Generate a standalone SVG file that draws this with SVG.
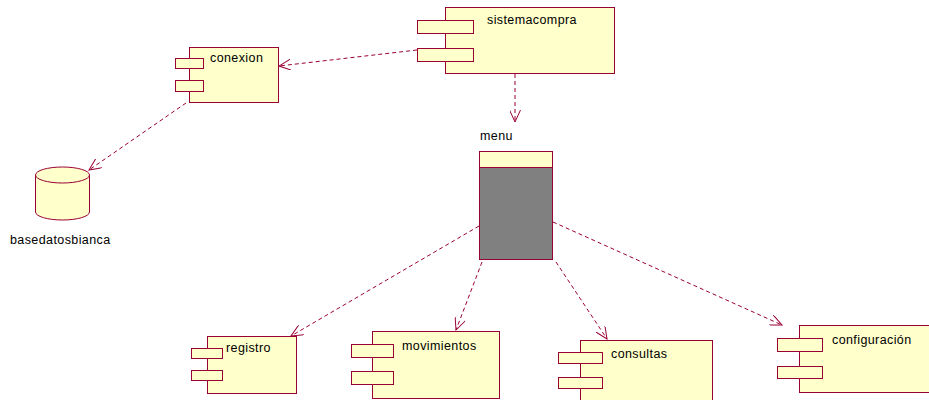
<svg xmlns="http://www.w3.org/2000/svg" width="929" height="400" viewBox="0 0 929 400">
  <style>
    .body { fill: #ffffcc; stroke: #990033; stroke-width: 1; }
    .tab { fill: #ffffcc; stroke: #990033; stroke-width: 1; }
    .lbl { font-family: "Liberation Sans", Arial, sans-serif; font-size: 12.5px; letter-spacing: 0.4px; fill: #000; }
    .dep { fill: none; stroke: #990033; stroke-width: 1; stroke-dasharray: 4 3; }
  </style>
  <defs>
    <marker id="open" viewBox="0 0 13 11" refX="12" refY="5.5" markerWidth="13" markerHeight="11" markerUnits="userSpaceOnUse" orient="auto">
      <path d="M0,0 L12,5.5 L0,11" fill="none" stroke="#990033" stroke-width="1"/>
    </marker>
  </defs>
  <rect width="929" height="400" fill="#ffffff"/>

  <!-- dependencies -->
  <g id="connectors">
    <line class="dep" x1="417" y1="50" x2="279" y2="66" marker-end="url(#open)"/>
    <line class="dep" x1="515" y1="74" x2="515" y2="122" marker-end="url(#open)"/>
    <line class="dep" x1="186" y1="103" x2="89" y2="170" marker-end="url(#open)"/>
    <line class="dep" x1="479" y1="226" x2="291" y2="336" marker-end="url(#open)"/>
    <line class="dep" x1="482" y1="262" x2="456" y2="330" marker-end="url(#open)"/>
    <line class="dep" x1="556" y1="262" x2="607" y2="339" marker-end="url(#open)"/>
    <line class="dep" x1="553" y1="222" x2="782" y2="325" marker-end="url(#open)"/>
  </g>

  <g id="sistemacompra">
    <rect class="body" x="445.5" y="7.5" width="169" height="66"/>
    <rect class="tab" x="417.5" y="20.5" width="56" height="13"/>
    <rect class="tab" x="417.5" y="48.5" width="56" height="13"/>
    <text class="lbl" x="487" y="24" style="letter-spacing:0.4px">sistemacompra</text>
  </g>

  <g id="conexion">
    <rect class="body" x="189.5" y="47.5" width="89" height="55"/>
    <rect class="tab" x="175.5" y="58.5" width="28" height="10"/>
    <rect class="tab" x="175.5" y="80.5" width="28" height="11"/>
    <text class="lbl" x="210" y="62">conexion</text>
  </g>

  <g id="basedatosbianca">
    <path class="body" d="M35.5,175 L35.5,212 A27,8 0 0 0 89.5,212 L89.5,175"/>
    <ellipse class="body" cx="62.5" cy="175" rx="27" ry="8"/>
    <text class="lbl" x="10" y="244">basedatosbianca</text>
  </g>

  <g id="menu">
    <text class="lbl" x="480" y="140">menu</text>
    <rect x="479.5" y="151.5" width="73" height="108" fill="#808080" stroke="#990033"/>
    <rect class="body" x="479.5" y="151.5" width="73" height="16"/>
  </g>

  <g id="registro">
    <rect class="body" x="207.5" y="336.5" width="89" height="57"/>
    <rect class="tab" x="191.5" y="348.5" width="31" height="10"/>
    <rect class="tab" x="191.5" y="370.5" width="31" height="10"/>
    <text class="lbl" x="226" y="352">registro</text>
  </g>

  <g id="movimientos">
    <rect class="body" x="372.5" y="331.5" width="127" height="67"/>
    <rect class="tab" x="351.5" y="344.5" width="42" height="13"/>
    <rect class="tab" x="351.5" y="371.5" width="42" height="13"/>
    <text class="lbl" x="402" y="350">movimientos</text>
  </g>

  <g id="consultas">
    <rect class="body" x="580.5" y="340.5" width="132" height="70"/>
    <rect class="tab" x="558.5" y="352.5" width="44" height="11"/>
    <rect class="tab" x="558.5" y="377.5" width="44" height="11"/>
    <text class="lbl" x="611" y="358">consultas</text>
  </g>

  <g id="configuracion">
    <rect class="body" x="799.5" y="325.5" width="140" height="67"/>
    <rect class="tab" x="777.5" y="338.5" width="45" height="13"/>
    <rect class="tab" x="777.5" y="366.5" width="45" height="12"/>
    <text class="lbl" x="832" y="344">configuración</text>
  </g>
</svg>
